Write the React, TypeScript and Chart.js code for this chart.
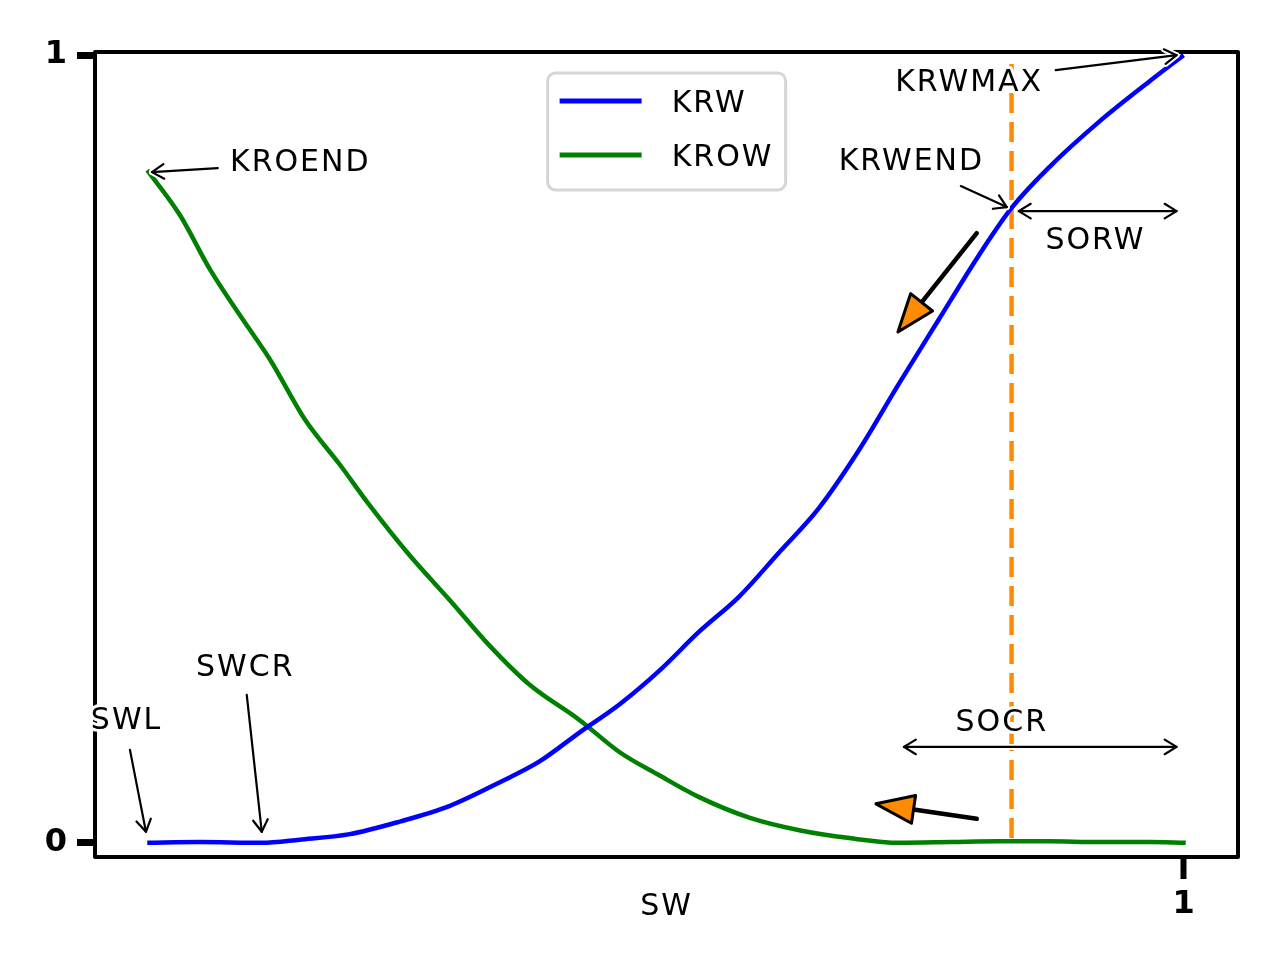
import React, { useEffect, useRef } from "react";
import { Chart, registerables } from "chart.js";

Chart.register(...registerables);

// Water saturation / relative permeability data
const swKrw = [0.048, 0.096, 0.153, 0.188, 0.234, 0.28, 0.326, 0.372, 0.408, 0.445, 0.482, 0.518, 0.555, 0.592, 0.628, 0.665, 0.702, 0.739, 0.775, 0.812, 0.842, 0.876, 0.922, 0.968, 1.0];
const krw = [0.0, 0.001, 0.0, 0.004, 0.011, 0.027, 0.047, 0.077, 0.103, 0.14, 0.176, 0.218, 0.268, 0.313, 0.368, 0.425, 0.499, 0.584, 0.664, 0.746, 0.806, 0.857, 0.915, 0.966, 1.0];

const swKrow = [0.048, 0.078, 0.106, 0.133, 0.161, 0.193, 0.225, 0.252, 0.289, 0.326, 0.362, 0.399, 0.445, 0.482, 0.518, 0.555, 0.601, 0.647, 0.693, 0.739, 0.786, 0.83, 0.876, 0.922, 0.968, 1.002];
const krow = [0.854, 0.797, 0.727, 0.67, 0.613, 0.537, 0.48, 0.429, 0.365, 0.308, 0.251, 0.201, 0.156, 0.115, 0.086, 0.058, 0.032, 0.016, 0.006, 0.0, 0.001, 0.002, 0.002, 0.001, 0.001, 0.0];

const sowcrX = [0.842, 0.842];
const sowcrY = [0.006, 0.995];

const seriesLabels = ["KRW", "KROW"];
const xTicks = [1];
const yTicks = [0, 1];
const xLabel = "SW";

const textNotes = [
  { text: "KROEND", x: 0.124, y: 0.863, align: "left" },
  { text: "KRWMAX", x: 0.803, y: 0.964, align: "center" },
  { text: "KRWEND", x: 0.75, y: 0.864, align: "center" },
  { text: "SORW", x: 0.919, y: 0.764, align: "center" },
  { text: "SWL", x: 0.029, y: 0.154, align: "center" },
  { text: "SWCR", x: 0.138, y: 0.222, align: "center" },
  { text: "SOCR", x: 0.833, y: 0.152, align: "center" },
];

const arrowNotes = [
  { from: [0.1128, 0.8566], to: [0.0523, 0.8515], both: false },
  { from: [0.8826, 0.981], to: [0.9936, 1.0], both: false },
  { from: [0.7954, 0.8338], to: [0.8376, 0.8071], both: false },
  { from: [0.8486, 0.802], to: [0.9936, 0.802], both: true },
  { from: [0.0321, 0.118], to: [0.0468, 0.014], both: false },
  { from: [0.1394, 0.1878], to: [0.1532, 0.014], both: false },
  { from: [0.7431, 0.1218], to: [0.9936, 0.1218], both: true },
];

const fancyArrows = [
  { from: [0.81, 0.774], to: [0.7376, 0.6485] },
  { from: [0.81, 0.0305], to: [0.7174, 0.0495] },
];

const FONT = "'DejaVu Sans', sans-serif";

function openHead(ctx: CanvasRenderingContext2D, tx: number, ty: number, fx: number, fy: number) {
  const ang = Math.atan2(ty - fy, tx - fx);
  const len = 14;
  const spread = 0.55;
  ctx.beginPath();
  ctx.moveTo(tx - len * Math.cos(ang - spread), ty - len * Math.sin(ang - spread));
  ctx.lineTo(tx, ty);
  ctx.lineTo(tx - len * Math.cos(ang + spread), ty - len * Math.sin(ang + spread));
  ctx.stroke();
}

const annotPlugin = {
  id: "annot",
  beforeDatasetsDraw(chart: any) {
    const { ctx, chartArea } = chart;
    ctx.save();
    ctx.strokeStyle = "#000";
    ctx.lineWidth = 4;
    ctx.lineJoin = "round";
    ctx.strokeRect(chartArea.left, chartArea.top, chartArea.right - chartArea.left, chartArea.bottom - chartArea.top);
    ctx.restore();
  },
  afterDatasetsDraw(chart: any) {
    const { ctx, chartArea } = chart;
    const xs = chart.scales.x;
    const ys = chart.scales.y;
    const px = (v: number) => xs.getPixelForValue(v);
    const py = (v: number) => ys.getPixelForValue(v);
    ctx.save();
    ctx.lineCap = "round";
    ctx.lineJoin = "round";

    // simple arrows
    for (const a of arrowNotes) {
      const fx = px(a.from[0]), fy = py(a.from[1]);
      const tx = px(a.to[0]), ty = py(a.to[1]);
      for (const pass of [0, 1]) {
        ctx.strokeStyle = pass === 0 ? "#fff" : "#000";
        ctx.lineWidth = pass === 0 ? 6 : 2.2;
        ctx.beginPath();
        ctx.moveTo(fx, fy);
        ctx.lineTo(tx, ty);
        ctx.stroke();
        openHead(ctx, tx, ty, fx, fy);
        if (a.both) openHead(ctx, fx, fy, tx, ty);
      }
    }

    // fancy arrows
    for (const a of fancyArrows) {
      const fx = px(a.from[0]), fy = py(a.from[1]);
      const tx = px(a.to[0]), ty = py(a.to[1]);
      const ang = Math.atan2(ty - fy, tx - fx);
      const hl = 38, hw = 14;
      const bx = tx - hl * Math.cos(ang), by = ty - hl * Math.sin(ang);
      ctx.strokeStyle = "#000";
      ctx.lineWidth = 4.5;
      ctx.beginPath();
      ctx.moveTo(fx, fy);
      ctx.lineTo(bx, by);
      ctx.stroke();
      ctx.beginPath();
      ctx.moveTo(tx, ty);
      ctx.lineTo(bx + hw * Math.sin(ang), by - hw * Math.cos(ang));
      ctx.lineTo(bx - hw * Math.sin(ang), by + hw * Math.cos(ang));
      ctx.closePath();
      ctx.fillStyle = "#ff8c00";
      ctx.fill();
      ctx.lineWidth = 3;
      ctx.stroke();
    }

    // text notes
    ctx.font = `30px ${FONT}`;
    (ctx as any).letterSpacing = "2px";
    ctx.textBaseline = "middle";
    for (const t of textNotes) {
      ctx.textAlign = t.align as CanvasTextAlign;
      ctx.strokeStyle = "#fff";
      ctx.lineWidth = 6;
      ctx.strokeText(t.text, px(t.x), py(t.y));
      ctx.fillStyle = "#000";
      ctx.fillText(t.text, px(t.x), py(t.y));
    }

    // x axis label
    ctx.textAlign = "center";
    ctx.fillText(xLabel, (chartArea.left + chartArea.right) / 2, 907);

    // legend
    const w = chartArea.right - chartArea.left;
    const h = chartArea.bottom - chartArea.top;
    const lx = chartArea.left + 0.396 * w;
    const ly = chartArea.top + 0.026 * h;
    const lw = 238, lh = 117;
    ctx.beginPath();
    (ctx as any).roundRect(lx, ly, lw, lh, 8);
    ctx.fillStyle = "rgba(255,255,255,0.9)";
    ctx.fill();
    ctx.strokeStyle = "#d6d6d6";
    ctx.lineWidth = 3;
    ctx.stroke();
    const items = chart.data.datasets.filter((d: any) => seriesLabels.includes(d.label));
    items.forEach((d: any, i: number) => {
      const yy = ly + 28 + i * 54;
      ctx.strokeStyle = d.borderColor;
      ctx.lineWidth = 5;
      ctx.lineCap = "butt";
      ctx.beginPath();
      ctx.moveTo(lx + 12, yy);
      ctx.lineTo(lx + 94, yy);
      ctx.stroke();
      ctx.fillStyle = "#000";
      ctx.textAlign = "left";
      ctx.fillText(d.label, lx + 124, yy + 3);
    });
    ctx.restore();
  },
};

export default function App() {
  const ref = useRef<HTMLCanvasElement | null>(null);
  useEffect(() => {
    if (!ref.current) return;
    const chart = new Chart(ref.current, {
      type: "line",
      data: {
        datasets: [
          {
            label: seriesLabels[0],
            data: swKrw.map((x, i) => ({ x, y: krw[i] })),
            borderColor: "#0000ff",
            borderWidth: 4.5,
            pointRadius: 0,
            cubicInterpolationMode: "monotone",
            order: 0,
          },
          {
            label: seriesLabels[1],
            data: swKrow.map((x, i) => ({ x, y: krow[i] })),
            borderColor: "#008000",
            borderWidth: 4.5,
            pointRadius: 0,
            cubicInterpolationMode: "monotone",
            order: 1,
          },
          {
            label: "SOWCR",
            data: sowcrX.map((x, i) => ({ x, y: sowcrY[i] })),
            borderColor: "#ff8c00",
            borderWidth: 4.5,
            borderDash: [20, 9],
            pointRadius: 0,
            order: 2,
          },
        ],
      },
      options: {
        animation: false,
        responsive: false,
        maintainAspectRatio: false,
        layout: { padding: { top: 52, right: 42, left: 0, bottom: 0 } },
        plugins: { legend: { display: false }, tooltip: { enabled: false } },
        scales: {
          x: {
            type: "linear",
            min: 0,
            max: 1.05,
            afterBuildTicks: (s: any) => {
              s.ticks = xTicks.map((v) => ({ value: v }));
            },
            afterFit: (s: any) => {
              s.height = 103;
            },
            ticks: {
              color: "#000",
              font: { family: FONT, size: 32, weight: "bold" },
              padding: 6,
              maxRotation: 0,
              callback: (v: any) => String(v),
            },
            grid: {
              drawOnChartArea: false,
              drawTicks: true,
              tickLength: 22,
              tickWidth: 6,
              tickColor: "#000",
            },
            border: { display: false },
          },
          y: {
            type: "linear",
            min: -0.018,
            max: 1.004,
            afterBuildTicks: (s: any) => {
              s.ticks = yTicks.map((v) => ({ value: v }));
            },
            afterFit: (s: any) => {
              s.width = 95;
            },
            ticks: {
              color: "#000",
              font: { family: FONT, size: 32, weight: "bold" },
              padding: 10,
              callback: (v: any) => String(v),
            },
            grid: {
              drawOnChartArea: false,
              drawTicks: true,
              tickLength: 18,
              tickWidth: 7,
              tickColor: "#000",
            },
            border: { display: false },
          },
        },
      } as any,
      plugins: [annotPlugin],
    });
    return () => chart.destroy();
  }, []);
  return (
    <div style={{ position: "fixed", left: 0, top: 0, width: 1280, height: 960, background: "#fff" }}>
      <canvas ref={ref} width={1280} height={960} style={{ width: 1280, height: 960 }} />
    </div>
  );
}
